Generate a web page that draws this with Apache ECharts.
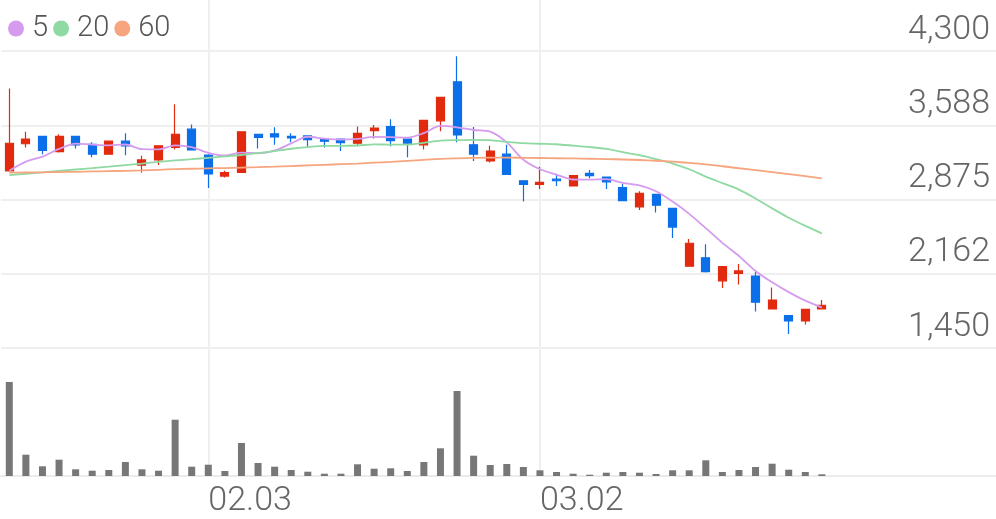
<!DOCTYPE html>
<html><head><meta charset="utf-8">
<script src="https://cdn.jsdelivr.net/npm/echarts@6/dist/echarts.min.js"></script>
<style>html,body{margin:0;padding:0;background:#fff}#c{width:996px;height:519px}</style>
</head><body><div id="c"></div>
<script>
// ---- data ----
const categories = ['01.14','01.15','01.16','01.17','01.20','01.21','01.22','01.23','01.28','01.29',
  '01.30','01.31','02.03','02.04','02.05','02.06','02.07','02.10','02.11','02.12',
  '02.13','02.14','02.17','02.18','02.19','02.20','02.21','02.24','02.25','02.26',
  '02.27','02.28','03.02','03.03','03.04','03.05','03.06','03.09','03.10','03.11',
  '03.12','03.13','03.16','03.17','03.18','03.19','03.20','03.23','03.24','03.25',
  '03.26','03.27','03.30','03.31','04.01','04.02','04.03','04.06','04.07','04.08'];
const opens  = [3150,3410,3480,3335,3480,3405,3310,3435,3205,3255,3375,3550,3300,3100,3135,3500,3505,3480,3485,3460,
                3455,3415,3535,3575,3455,3400,3630,4005,3400,3245,3310,3055,3020,3070,3005,3125,3090,2990,2805,2925,
                2790,2235,2315,2095,2165,2140,1825,1760,1710,1825];
const closes = [3415,3455,3345,3480,3400,3310,3435,3390,3255,3390,3500,3350,3120,3132,3525,3470,3475,3465,3450,3435,
                3420,3510,3560,3440,3415,3635,3855,3495,3310,3340,3115,3020,3040,3055,3105,3105,3045,2865,2935,2820,
                2610,2455,2182,2230,2190,1890,1910,1710,1820,1860];
const lows   = [3145,3375,3310,3325,3365,3280,3305,3300,3135,3205,3355,3345,2985,3085,3130,3365,3400,3425,3380,3375,
                3340,3385,3460,3385,3280,3355,3530,3425,3245,3230,3110,2855,2975,3005,3000,3080,2975,2860,2775,2750,
                2505,2230,2175,2025,2060,1800,1820,1585,1675,1820];
const highs  = [3940,3525,3485,3500,3485,3425,3440,3510,3295,3395,3790,3595,3310,3150,3530,3505,3568,3510,3490,3465,
                3460,3575,3590,3645,3460,3640,3860,4250,3570,3390,3400,3060,3190,3115,3110,3158,3095,3025,2955,2930,
                2795,2495,2445,2235,2255,2180,2030,1765,1825,1910];
const volumes = [940,213,97,163,67,53,60,140,67,53,563,93,113,50,330,130,93,60,43,23,
                 23,117,73,77,50,140,277,850,203,110,120,90,57,40,23,13,33,40,33,20,
                 57,57,157,40,60,90,123,63,40,17];
const ma5  = [3151,3238,3286,3360,3412,3402,3394,3403,3358,3356,3394,3377,3323,3298,3325,3319,3344,3413,3477,3459,
              3449,3456,3475,3473,3469,3512,3581,3568,3542,3527,3423,3256,3165,3114,3067,3065,3070,3035,3011,2954,
              2855,2737,2600,2459,2333,2189,2080,1986,1904,1838];
const ma20 = [3108,3122,3136,3150,3163,3176,3190,3205,3220,3236,3250,3262,3275,3288,3302,3320,3340,3362,3378,3390,
              3390,3393,3404,3402,3402,3419,3440,3445,3448,3445,3428,3415,3410,3405,3392,3378,3360,3330,3300,3262,
              3220,3165,3095,3032,2970,2885,2790,2700,2622,2550];
const ma60 = [3132,3134,3136,3138,3141,3144,3147,3150,3154,3160,3166,3170,3174,3177,3181,3185,3190,3196,3202,3208,
              3214,3220,3228,3236,3246,3256,3265,3270,3274,3277,3277,3275,3273,3271,3269,3266,3263,3259,3254,3247,
              3238,3226,3212,3194,3175,3157,3138,3119,3099,3078];
const maNames = ['5','20','60'];
const yTickLabels = ['1,450','2,162','2,875','3,588','4,300'];
const xTickLabels = ['02.03','03.02'];
const priceMin = 1450, priceMax = 4300, priceStep = 712.5;

// ---- chart ----
const UP = '#e12a0e', DOWN = '#0a6fe8';
const MA_COLORS = ['#d59bee','#8fd9a2','#f6a57e'];
const FONT = 'Roboto';
const candles = opens.map((o, i) => [o, closes[i], lows[i], highs[i]]);
const chart = echarts.init(document.getElementById('c'), null, {renderer: 'canvas'});
const maSeries = [ma5, ma20, ma60].map((d, k) => ({
  name: maNames[k], type: 'line', data: d, xAxisIndex: 0, yAxisIndex: 0,
  smooth: 0.3, symbol: 'none', z: 3,
  lineStyle: {color: MA_COLORS[k], width: 1.8}, itemStyle: {color: MA_COLORS[k]}
}));
chart.setOption({
  animation: false,
  legend: {
    data: maNames, left: 3, top: 9, icon: 'circle', itemWidth: 16, itemHeight: 16, itemGap: 5,
    textStyle: {fontFamily: FONT, fontSize: 29, fontWeight: 300, color: '#555', padding: [0, 0, 0, 3]}
  },
  grid: [
    {left: 1, right: 0, top: 51, height: 297},
    {left: 1, right: 0, top: 0, bottom: 43}
  ],
  xAxis: [
    {type: 'category', data: categories, gridIndex: 0, show: false},
    {type: 'category', data: categories, gridIndex: 1,
     axisLine: {show: true, lineStyle: {color: '#ebebeb', width: 2}},
     axisTick: {show: false}, splitLine: {show: false},
     axisLabel: {interval: (i, v) => xTickLabels.includes(v), align: 'left',
                 fontFamily: FONT, fontSize: 34, fontWeight: 300, color: '#666', margin: 8}}
  ],
  yAxis: [
    {type: 'value', gridIndex: 0, position: 'right', min: priceMin, max: priceMax, interval: priceStep,
     axisLine: {show: false}, axisTick: {show: false},
     splitLine: {lineStyle: {color: '#efefef', width: 2}},
     axisLabel: {inside: true, margin: 6, verticalAlign: 'bottom', padding: [0, 0, 4, 0],
                 formatter: (v, idx) => yTickLabels[idx],
                 fontFamily: FONT, fontSize: 34, fontWeight: 300, color: '#666'}},
    {type: 'value', gridIndex: 1, min: 0, max: 4760, show: false, splitLine: {show: false}}
  ],
  series: [
    {type: 'candlestick', data: candles, xAxisIndex: 0, yAxisIndex: 0, barWidth: 8.5, z: 2,
     itemStyle: {color: UP, color0: DOWN, borderColor: UP, borderColor0: DOWN, borderWidth: 1.2}},
    ...maSeries,
    {type: 'bar', data: volumes, xAxisIndex: 1, yAxisIndex: 1, barWidth: 7, z: 2,
     itemStyle: {color: '#777'},
     markLine: {z: 1, silent: true, symbol: ['none', 'none'], label: {show: false},
                lineStyle: {color: '#efefef', width: 2, type: 'solid'},
                emphasis: {disabled: true},
                data: xTickLabels.map(v => ({xAxis: v}))}}
  ]
});
</script></body></html>
